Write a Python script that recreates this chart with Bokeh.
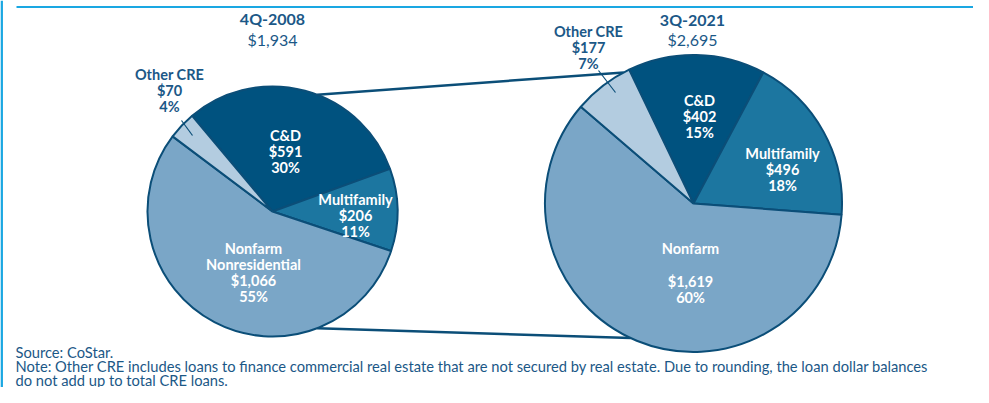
import math
from bokeh.plotting import figure
from bokeh.models import ColumnDataSource, Range1d
from bokeh.core.properties import value
from bokeh.embed import file_html
from bokeh.resources import INLINE

# ---------------- data ----------------
categories = ["C&D", "Multifamily", "Nonfarm Nonresidential", "Other CRE"]
period_labels = ["4Q-2008", "3Q-2021"]
period_totals = [1934, 2695]
values_2008 = [591, 206, 1066, 70]
values_2021 = [402, 496, 1619, 177]
pct_2008 = ["30%", "11%", "55%", "4%"]
pct_2021 = ["15%", "18%", "60%", "7%"]
names_2008 = [["C&D"], ["Multifamily"], ["Nonfarm", "Nonresidential"], ["Other CRE"]]
names_2021 = [["C&D"], ["Multifamily"], ["Nonfarm", ""], ["Other CRE"]]
source_note = "Source: CoStar."
note_lines = [
    "Note: Other CRE includes loans to finance commercial real estate that are not secured by real estate. Due to rounding, the loan dollar balances",
    "do not add up to total CRE loans.",
]

# ---------------- style ----------------
W, H = 973, 387
colors = ["#00527f", "#1c76a0", "#7aa6c7", "#b3cce0"]
edge = "#0b4e78"
dark = "#1b5887"
cyan = "#1aa7e2"
FONT = value("Lato")


def X(rx):
    return rx


def Y(ry):
    return H - ry


p = figure(width=W, height=H, x_range=Range1d(0, W), y_range=Range1d(0, H),
           output_backend="svg", toolbar_location=None, min_border=0)
p.axis.visible = False
p.grid.visible = False
p.outline_line_color = None
p.background_fill_color = "white"

# frame decorations
p.segment(x0=[1.2], y0=[0], x1=[1.2], y1=[H], line_color=cyan, line_width=2.5)
p.segment(x0=[16], y0=[Y(6.5)], x1=[W], y1=[Y(6.5)], line_color=cyan, line_width=2)

pies = [
    dict(cx=272, cy=211, r=125, start=130.0, vals=values_2008, pct=pct_2008, names=names_2008,
         title_x=272, title_y=18, total_y=39,
         label_pos=[(285, 135), (355, 199), (253, 248), (169, 74)],
         label_white=[True, True, True, False],
         leader=((181, 120), (192, 135))),
    dict(cx=693, cy=203, r=148.5, start=115.7, vals=values_2021, pct=pct_2021, names=names_2021,
         title_x=692, title_y=19, total_y=39,
         label_pos=[(699, 100), (782, 153), (690, 248), (588, 31)],
         label_white=[True, True, True, False],
         leader=((598, 70), (615, 92))),
]

# connector lines between the pies
lp, rp = pies
for la, ra in [(69, 118), (-69, -115)]:
    x0 = lp["cx"] + lp["r"] * math.cos(math.radians(la))
    y0 = lp["cy"] - lp["r"] * math.sin(math.radians(la))
    x1 = rp["cx"] + rp["r"] * math.cos(math.radians(ra))
    y1 = rp["cy"] - rp["r"] * math.sin(math.radians(ra))
    p.segment(x0=[X(x0)], y0=[Y(y0)], x1=[X(x1)], y1=[Y(y1)], line_color=edge, line_width=2.5)

LS = 16
for i, pie in enumerate(pies):
    vals = pie["vals"]
    total = sum(vals)
    cum = 0
    starts, ends = [], []
    for v in vals:
        a0 = math.radians(pie["start"]) - 2 * math.pi * cum / total
        cum += v
        a1 = math.radians(pie["start"]) - 2 * math.pi * cum / total
        starts.append(a0)
        ends.append(a1)
    src = ColumnDataSource(dict(start=starts, end=ends, color=colors, cat=categories))
    p.wedge(x=X(pie["cx"]), y=Y(pie["cy"]), radius=pie["r"], start_angle="start", end_angle="end",
            direction="clock", fill_color="color", line_color=edge, line_width=2, source=src)

    # leader line
    (ax, ay), (bx, by) = pie["leader"]
    p.segment(x0=[X(ax)], y0=[Y(ay)], x1=[X(bx)], y1=[Y(by)], line_color=edge, line_width=1.2)

    # title
    p.text(x=[X(pie["title_x"])], y=[Y(pie["title_y"])], text=[period_labels[i]],
           text_font=FONT, text_font_style="bold", text_font_size="16px", text_color=dark,
           text_align="center", text_baseline="middle")
    p.text(x=[X(pie["title_x"])], y=[Y(pie["total_y"])], text=["${:,}".format(period_totals[i])],
           text_font=FONT, text_font_size="16px", text_color=dark,
           text_align="center", text_baseline="middle")

    # slice labels
    xs, ys, ts, cs = [], [], [], []
    for k in range(len(vals)):
        lines = pie["names"][k] + ["${:,}".format(vals[k]), pie["pct"][k]]
        lx, ly = pie["label_pos"][k]
        col = "white" if pie["label_white"][k] else dark
        for j, t in enumerate(lines):
            if t == "":
                continue
            xs.append(X(lx))
            ys.append(Y(ly + j * LS + (0.5 if j >= 2 and k == 2 and i == 1 else 0)))
            ts.append(t)
            cs.append(col)
    p.text(x=xs, y=ys, text=ts, text_color=cs, text_font=FONT, text_font_style="bold",
           text_font_size="14.5px", text_align="center", text_baseline="middle")

# footnotes
foot = [source_note] + note_lines
p.text(x=[X(15)] * 3, y=[Y(351), Y(365.5), Y(379)], text=foot, text_font=FONT,
       text_font_size="14.7px", text_color=dark, text_align="left", text_baseline="middle")

open("out.html", "w").write(file_html(p, INLINE))
